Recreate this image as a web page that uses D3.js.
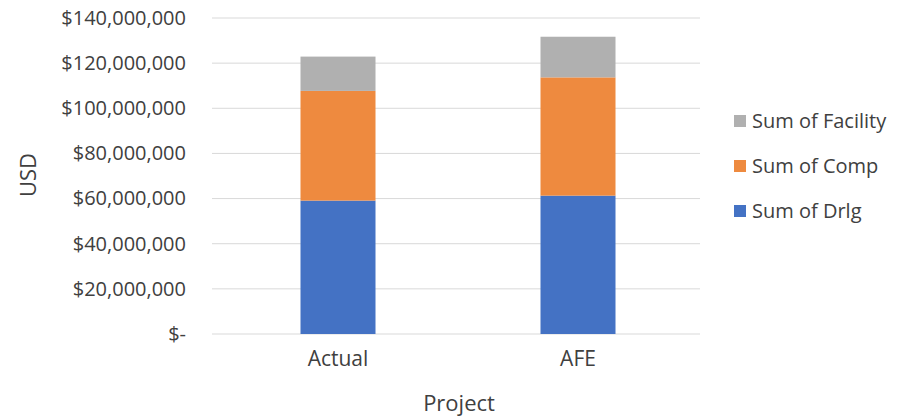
<!DOCTYPE html>
<html>
<head>
<meta charset="utf-8">
<script src="https://cdn.jsdelivr.net/npm/d3@7"></script>
<style>
  html, body { margin: 0; padding: 0; background: #ffffff; }
  svg { display: block; font-family: "Open Sans", "DejaVu Sans", sans-serif; }
</style>
</head>
<body>
<svg id="chart" width="907" height="419"></svg>
<script>
// ---- data ----
const categories = ["Actual", "AFE"];
const seriesNames = ["Sum of Drlg", "Sum of Comp", "Sum of Facility"];
const drlg = [59100000, 61300000];
const comp = [48600000, 52400000];
const facility = [15200000, 18000000];
const yTicks = [0, 20000000, 40000000, 60000000, 80000000, 100000000, 120000000, 140000000];
const colors = ["#4472C4", "#EE8A3F", "#B0B0B0"];

const svg = d3.select("#chart");
const plot = { left: 218, right: 698, top: 18, bottom: 334 };

const x = d3.scaleBand().domain(categories)
  .range([plot.left, plot.right])
  .paddingInner(0.6875).paddingOuter(0.34375);
const y = d3.scaleLinear().domain([0, 140000000]).range([plot.bottom, plot.top]);

const fmt = d3.format(",");
const tickFmt = v => v === 0 ? "$-" : "$" + fmt(v);

// gridlines
svg.append("g").selectAll("line").data(yTicks).join("line")
  .attr("x1", plot.left - 6).attr("x2", plot.right + 2)
  .attr("y1", d => y(d)).attr("y2", d => y(d))
  .attr("stroke", "#d9d9d9").attr("stroke-width", 1);

// y axis labels
const yAxis = d3.axisLeft(y).tickValues(yTicks).tickFormat(tickFmt).tickSize(0).tickPadding(0);
const gy = svg.append("g").attr("transform", "translate(186,0)").call(yAxis);
gy.select(".domain").remove();
gy.selectAll("text").attr("font-size", 20).attr("fill", "#404040")
  .attr("font-family", "'Open Sans', sans-serif");

// x axis labels
const xAxis = d3.axisBottom(x).tickSize(0).tickPadding(0);
const gx = svg.append("g").attr("transform", `translate(0,${plot.bottom + 17})`).call(xAxis);
gx.select(".domain").remove();
gx.selectAll("text").attr("font-size", 21).attr("fill", "#404040")
  .attr("font-family", "'Open Sans', sans-serif");

// stacked bars
const rows = categories.map((c, i) => ({ cat: c, "Sum of Drlg": drlg[i], "Sum of Comp": comp[i], "Sum of Facility": facility[i] }));
const stack = d3.stack().keys(seriesNames)(rows);
svg.append("g").selectAll("g").data(stack).join("g")
  .attr("fill", (d, i) => colors[i])
  .selectAll("rect").data(d => d).join("rect")
  .attr("x", d => x(d.data.cat))
  .attr("width", x.bandwidth())
  .attr("y", d => y(d[1]))
  .attr("height", d => y(d[0]) - y(d[1]));

// axis titles
svg.append("text").attr("transform", "translate(36,175) rotate(-90)")
  .attr("text-anchor", "middle").attr("font-size", 22).attr("fill", "#404040").text("USD");
svg.append("text").attr("x", 459).attr("y", 411)
  .attr("text-anchor", "middle").attr("font-size", 22).attr("fill", "#404040").text("Project");

// legend (reverse order like Excel)
const legendItems = seriesNames.map((n, i) => ({ name: n, color: colors[i] })).reverse();
const lg = svg.append("g").selectAll("g").data(legendItems).join("g")
  .attr("transform", (d, i) => `translate(734,${121 + i * 45})`);
lg.append("rect").attr("x", 0).attr("y", -6).attr("width", 12).attr("height", 12).attr("fill", d => d.color);
lg.append("text").attr("x", 18).attr("y", 0).attr("dy", "0.35em")
  .attr("font-size", 20).attr("fill", "#404040").text(d => d.name);
</script>
</body>
</html>
